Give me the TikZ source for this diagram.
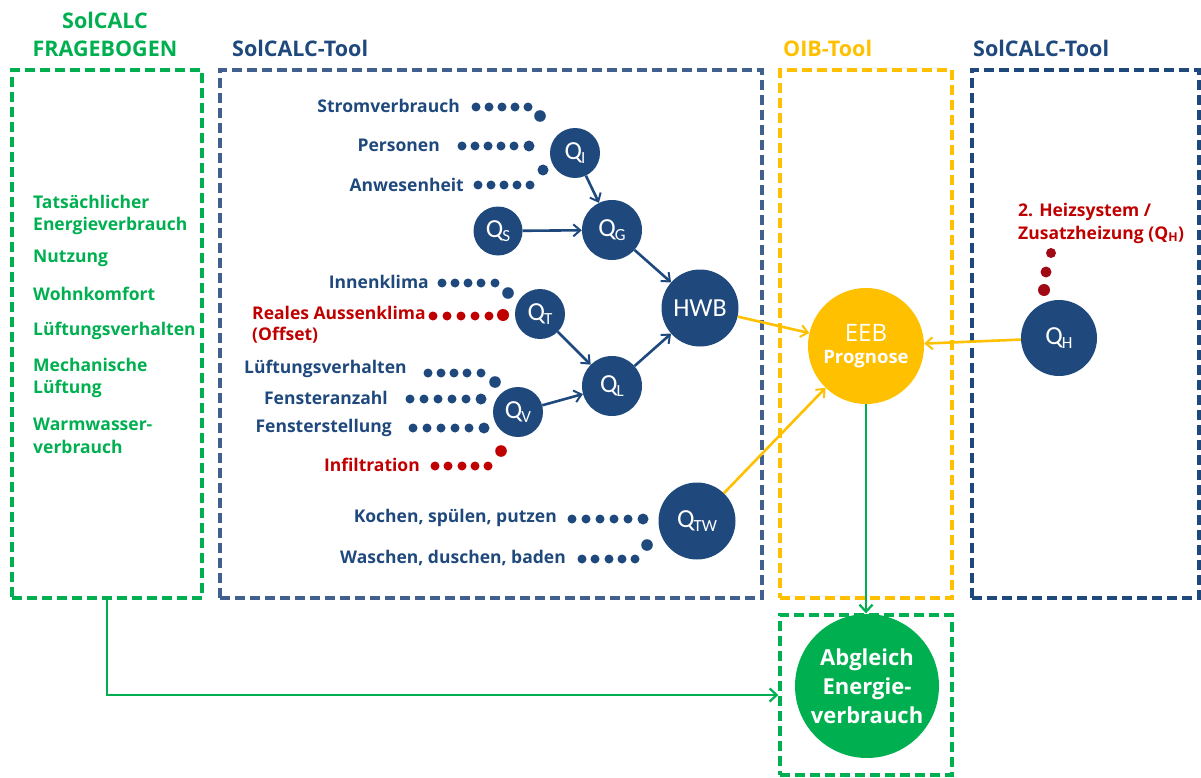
\documentclass[tikz,border=0pt]{standalone}
\usepackage{fontspec}
\setmainfont{Open Sans}
\newfontfamily\calfont{Carlito}
\usetikzlibrary{arrows.meta}
\definecolor{dblue}{RGB}{31,73,125}
\definecolor{mblue}{RGB}{66,96,142}
\definecolor{sgreen}{RGB}{0,176,80}
\definecolor{syellow}{RGB}{255,192,0}
\definecolor{sred}{RGB}{192,0,0}
\definecolor{dred}{RGB}{160,10,20}
\newcommand\qq[1]{Q\kern-1pt\raisebox{-0.3ex}{\fontsize{17}{17}\selectfont #1}}
\tikzset{
  boxstyle/.style={draw, line width=3.4pt, dash pattern=on 10pt off 5pt, inner sep=0},
  hdr/.style={font=\bfseries\fontsize{21.5}{28}\selectfont, inner sep=0, align=center},
  lab/.style={font=\bfseries\fontsize{17.5}{21}\selectfont, inner sep=0, text=dblue},
  glab/.style={font=\bfseries\fontsize{17.5}{22.5}\selectfont, inner sep=0, text=sgreen, anchor=west, align=left},
  qc/.style={circle, fill=dblue, text=white, inner sep=0, font=\calfont\fontsize{26}{26}\selectfont},
  barrow/.style={draw=dblue, line width=2.6pt, -{Straight Barb[length=7pt,width=12pt,line width=2pt]}},
  yarrow/.style={draw=syellow, line width=2.6pt, -{Straight Barb[length=7pt,width=12pt,line width=2pt]}},
  garrow/.style={draw=sgreen, line width=2.9pt, -{Straight Barb[length=7pt,width=13pt,line width=2.2pt]}},
}
\begin{document}
\begin{tikzpicture}[x=1pt,y=-1pt]
\useasboundingbox (0,0) rectangle (1201,778);
% boxes
\node[boxstyle, draw=sgreen, minimum width=190pt, minimum height=528pt] (lbox) at (107,334) {};
\node[boxstyle, draw=mblue, minimum width=542pt, minimum height=528pt] (mbox) at (491,334) {};
\node[boxstyle, draw=syellow, minimum width=172pt, minimum height=528pt] (ybox) at (866,334) {};
\node[boxstyle, draw=dblue, minimum width=227pt, minimum height=528pt] (rbox) at (1085.5,334) {};
\node[boxstyle, draw=sgreen, minimum width=172pt, minimum height=160pt] (gbox) at (866,695) {};
% headers
\node[hdr, text=sgreen] (h1) at (105,34) {SolCALC\\FRAGEBOGEN};
\node[hdr, text=dblue, anchor=west] (h2) at (232,48) {SolCALC-Tool};
\node[hdr, text=syellow, anchor=west] (h3) at (783,48) {OIB-Tool};
\node[hdr, text=dblue, anchor=west] (h4) at (973,48) {SolCALC-Tool};
% left list
\node[glab] (l1) at (33,215) {Tatsächlicher\\Energieverbrauch};
\node[glab] (l2) at (33,258) {Nutzung};
\node[glab] (l3) at (33,294) {Wohnkomfort};
\node[glab] (l4) at (33,331) {Lüftungsverhalten};
\node[glab] (l5) at (33,378) {Mechanische\\Lüftung};
\node[glab] (l6) at (33,436) {Warmwasser-\\verbrauch};
% circles
\node[qc, minimum size=50pt] (qi) at (575,153) {\qq{I}};
\node[qc, minimum size=60pt] (qg) at (612,230) {\qq{G}};
\node[qc, minimum size=49pt] (qs) at (498,231) {\qq{S}};
\node[qc, minimum size=77pt] (hwb) at (700,308) {HWB};
\node[qc, minimum size=50pt] (qt) at (540,314) {\qq{T}};
\node[qc, minimum size=60pt] (ql) at (612,386) {\qq{L}};
\node[qc, minimum size=50pt] (qv) at (518,412) {\qq{V}};
\node[qc, minimum size=77pt] (qtw) at (697,521) {\qq{TW}};
\node[qc, minimum size=76pt] (qh) at (1059,338) {\qq{H}};
\node[circle, fill=syellow, text=white, inner sep=0, minimum size=116pt, align=center] (eeb) at (866,346)
  {{\fontsize{24}{24}\selectfont EEB}\\[8pt]{\bfseries\fontsize{18.5}{18.5}\selectfont Prognose}};
\node[circle, fill=sgreen, text=white, inner sep=0, minimum size=144pt, align=center,
  font=\bfseries\fontsize{22}{29}\selectfont] (abg) at (867,686) {Abgleich\\Energie-\\verbrauch};
% labels
\node[lab, anchor=east] (t1) at (460,106) {Stromverbrauch};
\node[lab, anchor=east] (t2) at (440,145) {Personen};
\node[lab, anchor=east] (t3) at (464,185) {Anwesenheit};
\node[lab, anchor=east] (t4) at (429,282) {Innenklima};
\node[lab, anchor=west, text=sred, align=left] (t5) at (252,325) {Reales Aussenklima\\(Offset)};
\node[lab, anchor=west] (t6) at (244,369) {Lüftungsverhalten};
\node[lab, anchor=east] (t7) at (388,398) {Fensteranzahl};
\node[lab, anchor=east] (t8) at (392,428) {Fensterstellung};
\node[lab, anchor=east, text=sred] (t9) at (420,465) {Infiltration};
\node[lab, anchor=east] (t10) at (557,518) {Kochen, spülen, putzen};
\node[lab, anchor=east] (t11) at (566,558) {Waschen, duschen, baden};
\node[lab, anchor=west, text=sred, align=left, font=\bfseries\fontsize{17.5}{23}\selectfont] (t12) at (1018,223) {2. Heizsystem /\\Zusatzheizung (Q\textsubscript{H})};
% dots
\foreach \x in {476,489,502,515,528} \fill[dblue] (\x,107) circle (4.5);
\fill[dblue] (540,116) circle (5.8);
\foreach \x in {462,475,488,501,514} \fill[dblue] (\x,146) circle (4.5);
\fill[dblue] (529,146) circle (5.5);
\foreach \x in {478,491,504,517,530} \fill[dblue] (\x,185) circle (4.5);
\fill[dblue] (543,170) circle (5.5);
\foreach \x in {442,455,468,481,495} \fill[dblue] (\x,283) circle (4.5);
\fill[dblue] (508,293) circle (5.8);
\foreach \x in {433,447,461,475,489} \fill[sred] (\x,316) circle (4.5);
\fill[sred] (503,315) circle (6);
\foreach \x in {428,441,454,467,481} \fill[dblue] (\x,373) circle (4.5);
\fill[dblue] (495,382) circle (5.8);
\foreach \x in {410,424,438,452,466} \fill[dblue] (\x,399) circle (4.5);
\fill[dblue] (481,399) circle (5.5);
\foreach \x in {413,427,441,455,469} \fill[dblue] (\x,428) circle (4.5);
\fill[dblue] (484,428) circle (5.5);
\foreach \x in {435,448,462,475,488} \fill[sred] (\x,466) circle (4.5);
\fill[sred] (501,451) circle (5.8);
\foreach \x in {572,586,600,614,628} \fill[dblue] (\x,519) circle (4.5);
\fill[dblue] (643,519) circle (5.5);
\foreach \x in {582,595,609,622,635} \fill[dblue] (\x,559) circle (4.5);
\fill[dblue] (647,545) circle (5.8);
\fill[dred] (1051,253) circle (5);
\fill[dred] (1046,272) circle (5.5);
\fill[dred] (1044,290) circle (6);
% arrows
\draw[barrow] (qi) -- (qg);
\draw[barrow] (qs) -- (qg);
\draw[barrow] (qg) -- (hwb);
\draw[barrow] (qt) -- (ql);
\draw[barrow] (qv) -- (ql);
\draw[barrow] (ql) -- (hwb);
\draw[yarrow] (hwb) -- (eeb);
\draw[yarrow] (qtw) -- (eeb);
\draw[yarrow] (qh) -- (eeb);
\draw[garrow] (eeb) -- (eeb |- gbox.north);
\draw[garrow] (lbox.south) |- (gbox.west);
\end{tikzpicture}
\end{document}
